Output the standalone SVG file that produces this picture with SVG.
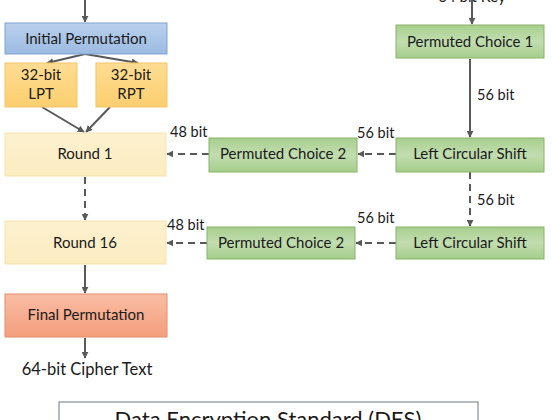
<svg xmlns="http://www.w3.org/2000/svg" width="552" height="420" viewBox="0 0 552 420">
<defs>
<linearGradient id="gBlue" x1="0" y1="0" x2="0" y2="1"><stop offset="0" stop-color="#b9d0ec"/><stop offset="1" stop-color="#9cbbe2"/></linearGradient>
<linearGradient id="gOrange" x1="0" y1="0" x2="0" y2="1"><stop offset="0" stop-color="#fedc92"/><stop offset="1" stop-color="#fccf6f"/></linearGradient>
<linearGradient id="gYellow" x1="0" y1="0" x2="0" y2="1"><stop offset="0" stop-color="#fdf1cf"/><stop offset="1" stop-color="#fcecc0"/></linearGradient>
<linearGradient id="gSalmon" x1="0" y1="0" x2="0" y2="1"><stop offset="0" stop-color="#f9bda4"/><stop offset="1" stop-color="#f49e7c"/></linearGradient>
<linearGradient id="gGreen" x1="0" y1="0" x2="0" y2="1"><stop offset="0" stop-color="#a8cf8e"/><stop offset="0.5" stop-color="#c2ddb0"/><stop offset="1" stop-color="#a5cd8b"/></linearGradient>
<marker id="ahs" viewBox="0 0 10 10" refX="9" refY="5" markerWidth="7" markerHeight="7" orient="auto" markerUnits="userSpaceOnUse">
<path d="M0,0 L10,5 L0,10 z" fill="#595959"/>
</marker>
</defs>
<style>
text{font-family:Lato,"Open Sans","Liberation Sans",sans-serif;fill:#1a1a1a}
.t{font-size:15px;text-anchor:middle}
.lb{font-size:14.5px}
.blue{fill:url(#gBlue);stroke:#7ea3d0;stroke-width:1}
.orange{fill:url(#gOrange);stroke:#f1c56b;stroke-width:1}
.yellow{fill:url(#gYellow);stroke:#f5e3ad;stroke-width:1}
.salmon{fill:url(#gSalmon);stroke:#e08e6d;stroke-width:1}
.green{fill:url(#gGreen);stroke:#86b46a;stroke-width:1}
.c{fill:none;stroke:#595959;stroke-width:2;marker-end:url(#ahs)}
.d{fill:none;stroke:#595959;stroke-width:2;stroke-dasharray:7,5;marker-end:url(#ahs)}
</style>
<rect width="552" height="420" fill="#ffffff"/>
<g id="connectors">
<line class="c" x1="85" y1="0" x2="85" y2="22"/>
<line class="c" x1="85" y1="54" x2="47" y2="63"/>
<line class="c" x1="85" y1="54" x2="138" y2="63"/>
<line class="c" x1="42" y1="107" x2="84" y2="132"/>
<line class="c" x1="110" y1="107" x2="86" y2="132"/>
<line class="d" x1="85" y1="177" x2="85" y2="220"/>
<line class="c" x1="85" y1="265" x2="85" y2="293"/>
<line class="c" x1="85" y1="338" x2="85" y2="358"/>
<line class="c" x1="472" y1="0" x2="472" y2="24"/>
<line class="c" x1="470" y1="59" x2="470" y2="137"/>
<line class="d" x1="470" y1="172" x2="470" y2="226"/>
<line class="d" x1="396" y1="154" x2="358" y2="154"/>
<line class="d" x1="209" y1="154" x2="167" y2="154"/>
<line class="d" x1="396" y1="243" x2="356" y2="243"/>
<line class="d" x1="207" y1="243" x2="167" y2="243"/>
</g>
<g id="ip"><rect class="blue" x="5" y="23" width="162" height="31"/><text class="t" x="86" y="44">Initial Permutation</text></g>
<g id="lpt"><rect class="orange" x="5" y="63" width="72" height="44"/><text class="t" x="41" y="80">32-bit</text><text class="t" x="41" y="99">LPT</text></g>
<g id="rpt"><rect class="orange" x="96" y="63" width="71" height="44"/><text class="t" x="131" y="80">32-bit</text><text class="t" x="131" y="99">RPT</text></g>
<g id="round1"><rect class="yellow" x="5" y="133" width="161" height="43"/><text class="t" x="85" y="159">Round 1</text></g>
<g id="round16"><rect class="yellow" x="5" y="221" width="161" height="43"/><text class="t" x="85" y="248">Round 16</text></g>
<g id="fp"><rect class="salmon" x="5" y="294" width="162" height="43"/><text class="t" x="86" y="320">Final Permutation</text></g>
<g id="cipher"><text x="87" y="375" style="font-size:16.5px;text-anchor:middle">64-bit Cipher Text</text></g>
<g id="key"><text class="t" x="472" y="2">64 bit Key</text></g>
<g id="pc1"><rect class="green" x="396" y="25" width="148" height="33"/><text class="t" x="470" y="47">Permuted Choice 1</text></g>
<g id="lcs1"><rect class="green" x="396" y="138" width="148" height="34"/><text class="t" x="470" y="159">Left Circular Shift</text></g>
<g id="pc2a"><rect class="green" x="209" y="138" width="148" height="34"/><text class="t" x="283" y="159">Permuted Choice 2</text></g>
<g id="lcs2"><rect class="green" x="396" y="227" width="148" height="32"/><text class="t" x="470" y="248">Left Circular Shift</text></g>
<g id="pc2b"><rect class="green" x="207" y="227" width="148" height="32"/><text class="t" x="281" y="248">Permuted Choice 2</text></g>
<g id="labels">
<text class="lb" x="170" y="137">48 bit</text>
<text class="lb" x="167" y="230">48 bit</text>
<text class="lb" x="357" y="138">56 bit</text>
<text class="lb" x="357" y="223">56 bit</text>
<text class="lb" x="477" y="100">56 bit</text>
<text class="lb" x="477" y="205">56 bit</text>
</g>
<g id="title"><rect x="59" y="402" width="419" height="30" fill="#ffffff" stroke="#6b7b86" stroke-width="1"/><text x="268" y="427" style="font-size:22px;text-anchor:middle">Data Encryption Standard (DES)</text></g>
</svg>
